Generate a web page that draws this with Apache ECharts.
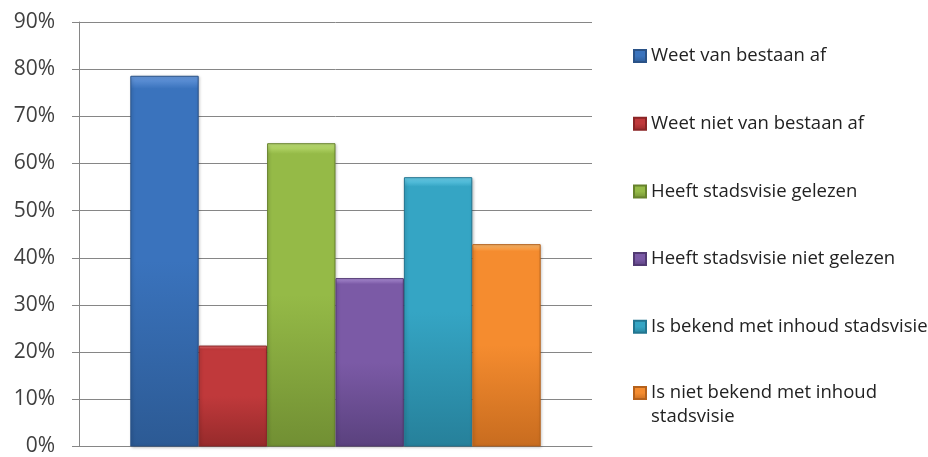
<!DOCTYPE html>
<html>
<head>
<meta charset="utf-8">
<script src="https://cdn.jsdelivr.net/npm/echarts@6/dist/echarts.min.js"></script>
<style>
  html, body { margin: 0; padding: 0; background: #fff; }
  #chart { width: 928px; height: 457px; }
</style>
</head>
<body>
<div id="chart"></div>
<script>
// Survey answers (percent of respondents)
const seriesNames = [
  'Weet van bestaan af',
  'Weet niet van bestaan af',
  'Heeft stadsvisie gelezen',
  'Heeft stadsvisie niet gelezen',
  'Is bekend met inhoud stadsvisie',
  'Is niet bekend met inhoud stadsvisie'
];
const legendLabels = [
  'Weet van bestaan af',
  'Weet niet van bestaan af',
  'Heeft stadsvisie gelezen',
  'Heeft stadsvisie niet gelezen',
  'Is bekend met inhoud stadsvisie',
  // leading blank line keeps the first text line level with the marker
  ' \nIs niet bekend met inhoud\nstadsvisie'
];
const values = [78.6, 21.4, 64.3, 35.7, 57.1, 42.9];
const categories = [''];
const yTicks = { min: 0, max: 90, interval: 10 };

// top / middle / bottom shades for each bar
const palette = [
  ['#6b9ce0', '#3a73bd', '#2c5a94'],
  ['#ef7476', '#c0393b', '#962a2b'],
  ['#c3e47a', '#95ba47', '#718f33'],
  ['#b696e0', '#7b5aa6', '#5a417e'],
  ['#6dd3ee', '#35a5c4', '#26809a'],
  ['#ffbd70', '#f58c2f', '#c86c1f']
];
const borders = ['#2a5287', '#8a2526', '#66822c', '#523a73', '#227590', '#b5611b'];

function barFill(p) {
  return {
    type: 'linear', x: 0, y: 0, x2: 0, y2: 1,
    colorStops: [
      { offset: 0, color: p[0] },
      { offset: 0.035, color: p[1] },
      { offset: 0.5, color: p[1] },
      { offset: 1, color: p[2] }
    ]
  };
}

const series = seriesNames.map((name, i) => ({
  name: name,
  type: 'bar',
  data: [values[i]],
  barGap: '0%',
  barCategoryGap: '20%',
  itemStyle: {
    color: barFill(palette[i]),
    borderColor: borders[i],
    borderWidth: 1,
    shadowColor: 'rgba(0,0,0,0.25)',
    shadowBlur: 3,
    shadowOffsetX: 1,
    shadowOffsetY: 1
  }
}));

const legendText = {
  fontFamily: 'Open Sans',
  fontSize: 18.5,
  color: '#222',
  lineHeight: 24
};

const chart = echarts.init(document.getElementById('chart'), null, { renderer: 'canvas' });
chart.setOption({
  animation: false,
  grid: { left: 79, right: 336, top: 22, bottom: 9.5, containLabel: false },
  legend: [
    {
      orient: 'vertical',
      left: 628,
      top: 39,
      itemWidth: 12,
      itemHeight: 12,
      itemGap: 43.7,
      icon: 'rect',
      data: seriesNames.slice(0, 5),
      formatter: (n) => legendLabels[seriesNames.indexOf(n)],
      textStyle: legendText,
      selectedMode: false
    },
    {
      orient: 'vertical',
      left: 628,
      top: 352,
      itemWidth: 12,
      itemHeight: 12,
      icon: 'rect',
      data: [seriesNames[5]],
      formatter: () => legendLabels[5],
      textStyle: legendText,
      selectedMode: false
    }
  ],
  xAxis: {
    type: 'category',
    data: categories,
    axisLine: { show: true, lineStyle: { color: '#868686', width: 1 } },
    axisTick: { show: false },
    axisLabel: { show: false }
  },
  yAxis: {
    type: 'value',
    min: yTicks.min,
    max: yTicks.max,
    interval: yTicks.interval,
    axisLine: { show: true, lineStyle: { color: '#868686', width: 1 } },
    axisTick: { show: true, length: 7, lineStyle: { color: '#868686' } },
    splitLine: { show: true, lineStyle: { color: '#868686', width: 1 } },
    axisLabel: {
      formatter: (v) => v + '%',
      fontFamily: 'Open Sans',
      fontSize: 21,
      color: '#404040',
      margin: 24
    }
  },
  series: series
});
</script>
</body>
</html>
